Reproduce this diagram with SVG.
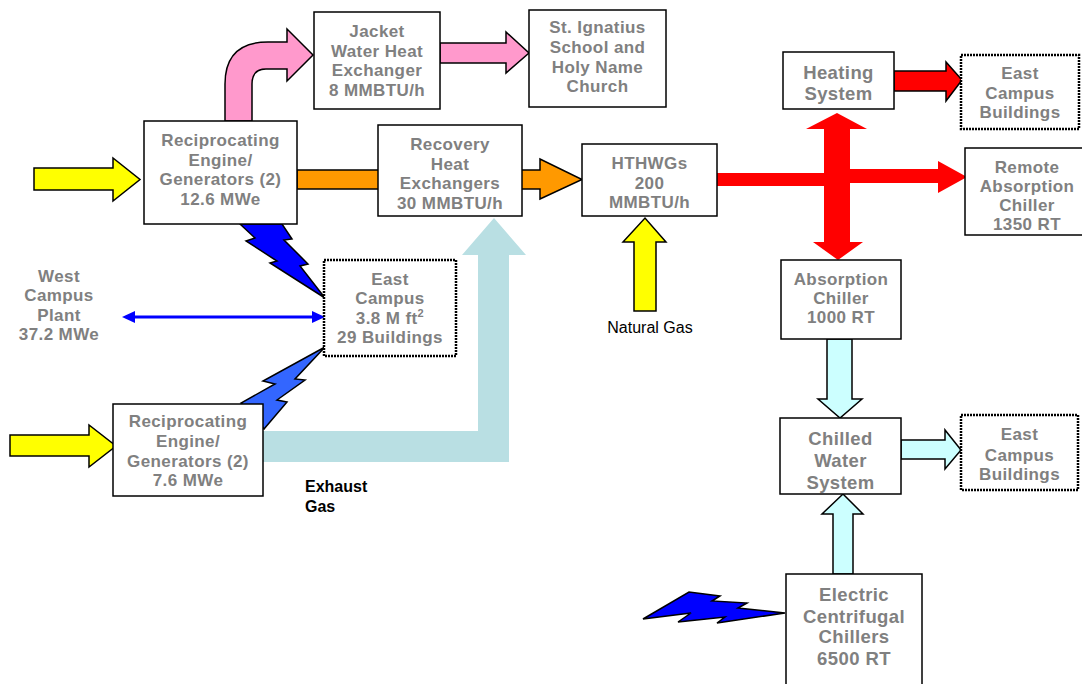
<svg xmlns="http://www.w3.org/2000/svg" width="1082" height="684" viewBox="0 0 1082 684">
<style>
.box{fill:#fff;stroke:#000;stroke-width:1.5}
.dot{fill:#fff;stroke:#000;stroke-width:2.5;stroke-dasharray:2 1}
.lbl{font-family:"Liberation Sans",Arial,sans-serif;font-weight:bold;font-size:17px;letter-spacing:0.4px;fill:#808080;text-anchor:middle}
.big{font-size:18.5px}
.blk{font-family:"Liberation Sans",Arial,sans-serif;fill:#000}
.ol{stroke:#000;stroke-width:1.5;stroke-linejoin:miter}
.yel{fill:#FFFF00}
.pink{fill:#FF99CC}
.org{fill:#FF9900}
.red{fill:#FF0000}
.cyan{fill:#CCFFFF}
.exh{fill:#B9DFE3}
.bolt{fill:#0000FF;stroke:#000;stroke-width:1.5;stroke-linejoin:miter}
.bolt2{fill:#3366FF;stroke:#000;stroke-width:1.5;stroke-linejoin:miter}
</style>
<rect width="1082" height="684" fill="#fff"/>
<g id="connectors">
  <polygon class="yel ol" points="34,168 113,168 113,158 140,179.5 113,201 113,190 34,190"/>
  <polygon class="yel ol" points="10,435 89,435 89,425 116,446 89,467 89,456 10,456"/>
  <polygon class="yel ol" points="634,311 634,242 623,242 645,218 666,242 656,242 656,311"/>
  <path class="pink ol" d="M225,121 L225,84 Q225,42 268,42 L287,42 L287,29 L313,55 L287,81 L287,69 L266,69 Q252,69 252,84 L252,121 Z"/>
  <polygon class="pink ol" points="440,43 506,43 506,32 529,53 506,73 506,63 440,63"/>
  <polygon class="org ol" points="297,170 540,170 540,159 582,179.5 540,199 540,189 297,189"/>
  <polygon class="exh" points="263,431 478,431 478,255 462,255 494,218 526,255 509,255 509,462 263,462"/>
  <rect class="red" x="717" y="173" width="133" height="13"/>
  <polygon class="red" points="845,169 938,169 938,161 967,177 938,193 938,183 845,183"/>
  <polygon class="red" points="824,129 806,129 837,113 867,129 850,129 850,242 863,242 838,260 813,242 824,242"/>
  <polygon class="red ol" points="894,71 946,71 946,62 962,80 946,101 946,91 894,91"/>
  <polygon class="cyan ol" points="827,339 852,339 852,399 862,399 840,418 818,399 827,399"/>
  <polygon class="cyan ol" points="833,574 833,514 822,514 843,494 863,514 853,514 853,574"/>
  <polygon class="cyan ol" points="901,440 945,440 945,430 961,450 945,469 945,459 901,459"/>
  <line x1="132" y1="317" x2="315" y2="317" stroke="#0000FF" stroke-width="3"/>
  <polygon fill="#0000FF" points="122,317 135,311 135,323"/>
  <polygon fill="#0000FF" points="325,317 312,311 312,323"/>
  <polygon class="bolt" points="240,224 282,224 292,239 284,240 308,264 300,266 325,298 270,263 277,261 246,241 255,238"/>
  <polygon class="bolt2" points="325,347 295,379 305,380 277,400 287,402 264,429 250,410 241,403 275,384 263,381"/>
  <polygon class="bolt" points="643,619 689,592 720,596 712,601 747,603 738,608 785,613 717,623 725,617 678,622 691,613"/>
</g>
<g id="recip1">
  <rect class="box" x="144" y="121" width="153" height="103"/>
  <text class="lbl" x="220.5" y="146">Reciprocating</text>
  <text class="lbl" x="220.5" y="165.5">Engine/</text>
  <text class="lbl" x="220.5" y="185">Generators (2)</text>
  <text class="lbl" x="220.5" y="204.5">12.6 MWe</text>
</g>
<g id="jacket">
  <rect class="box" x="314" y="12" width="126" height="97"/>
  <text class="lbl" x="377" y="37">Jacket</text>
  <text class="lbl" x="377" y="56.5">Water Heat</text>
  <text class="lbl" x="377" y="76">Exchanger</text>
  <text class="lbl" x="377" y="95.5">8 MMBTU/h</text>
</g>
<g id="ignatius">
  <rect class="box" x="529" y="10" width="137" height="97"/>
  <text class="lbl" x="597.5" y="33">St. Ignatius</text>
  <text class="lbl" x="597.5" y="53">School and</text>
  <text class="lbl" x="597.5" y="73">Holy Name</text>
  <text class="lbl" x="597.5" y="92">Church</text>
</g>
<g id="recovery">
  <rect class="box" x="378" y="125" width="144" height="91"/>
  <text class="lbl" x="450" y="150">Recovery</text>
  <text class="lbl" x="450" y="169.5">Heat</text>
  <text class="lbl" x="450" y="189">Exchangers</text>
  <text class="lbl" x="450" y="208.5">30 MMBTU/h</text>
</g>
<g id="hthwgs">
  <rect class="box" x="582" y="144" width="135" height="72"/>
  <text class="lbl" x="649.5" y="169">HTHWGs</text>
  <text class="lbl" x="649.5" y="189">200</text>
  <text class="lbl" x="649.5" y="208">MMBTU/h</text>
</g>
<g id="heating">
  <rect class="box" x="783" y="52" width="111" height="57"/>
  <text class="lbl big" x="838.5" y="79">Heating</text>
  <text class="lbl big" x="838.5" y="100">System</text>
</g>
<g id="east-buildings-1">
  <rect class="dot" x="961" y="55" width="118" height="74"/>
  <text class="lbl" x="1020" y="79">East</text>
  <text class="lbl" x="1020" y="99">Campus</text>
  <text class="lbl" x="1020" y="118">Buildings</text>
</g>
<g id="remote">
  <rect class="box" x="965" y="148" width="124" height="87"/>
  <text class="lbl" x="1027" y="173">Remote</text>
  <text class="lbl" x="1027" y="192">Absorption</text>
  <text class="lbl" x="1027" y="211">Chiller</text>
  <text class="lbl" x="1027" y="230">1350 RT</text>
</g>
<g id="absorption">
  <rect class="box" x="781" y="260" width="120" height="79"/>
  <text class="lbl" x="841" y="285">Absorption</text>
  <text class="lbl" x="841" y="304">Chiller</text>
  <text class="lbl" x="841" y="323">1000 RT</text>
</g>
<g id="chilled">
  <rect class="box" x="780" y="418" width="121" height="76"/>
  <text class="lbl big" x="840.5" y="445">Chilled</text>
  <text class="lbl big" x="840.5" y="467">Water</text>
  <text class="lbl big" x="840.5" y="489">System</text>
</g>
<g id="east-buildings-2">
  <rect class="dot" x="961" y="415" width="117" height="75"/>
  <text class="lbl" x="1019.5" y="440">East</text>
  <text class="lbl" x="1019.5" y="461">Campus</text>
  <text class="lbl" x="1019.5" y="480">Buildings</text>
</g>
<g id="electric">
  <rect class="box" x="786" y="574" width="136" height="130"/>
  <text class="lbl big" x="854" y="601">Electric</text>
  <text class="lbl big" x="854" y="623">Centrifugal</text>
  <text class="lbl big" x="854" y="643">Chillers</text>
  <text class="lbl big" x="854" y="665">6500 RT</text>
</g>
<g id="east-campus">
  <rect class="dot" x="324" y="260" width="132" height="96"/>
  <text class="lbl" x="390" y="285">East</text>
  <text class="lbl" x="390" y="304">Campus</text>
  <text class="lbl" x="390" y="324">3.8 M ft<tspan font-size="11" dy="-7">2</tspan></text>
  <text class="lbl" x="390" y="343">29 Buildings</text>
</g>
<g id="recip2">
  <rect class="box" x="113" y="404" width="150" height="92"/>
  <text class="lbl" x="188" y="427">Reciprocating</text>
  <text class="lbl" x="188" y="447">Engine/</text>
  <text class="lbl" x="188" y="467">Generators (2)</text>
  <text class="lbl" x="188" y="486">7.6 MWe</text>
</g>
<g id="west-campus">
  <text class="lbl" x="59" y="282">West</text>
  <text class="lbl" x="59" y="301">Campus</text>
  <text class="lbl" x="59" y="321">Plant</text>
  <text class="lbl" x="59" y="340">37.2 MWe</text>
</g>
<g id="labels">
  <text class="blk" x="305" y="492" font-size="16" font-weight="bold">Exhaust</text>
  <text class="blk" x="305" y="512" font-size="16" font-weight="bold">Gas</text>
  <text class="blk" x="650" y="333" font-size="16" text-anchor="middle">Natural Gas</text>
</g>
</svg>
